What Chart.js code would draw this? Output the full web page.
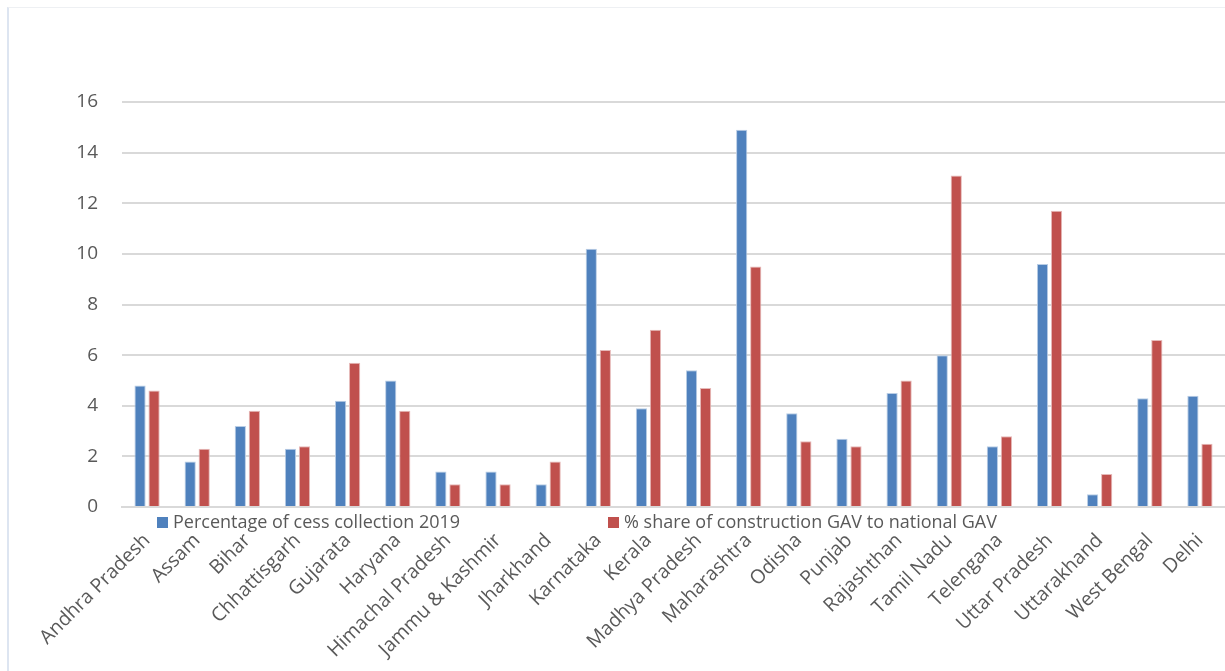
<!DOCTYPE html>
<html>
<head>
<meta charset="utf-8">
<script src="https://cdn.jsdelivr.net/npm/chart.js@4"></script>
<style>
  body { margin: 0; background: #fff; }
  #wrap { position: relative; width: 1225px; height: 671px; overflow: hidden; }
  #frame { position: absolute; left: 7px; top: 7px; right: -2px; bottom: -2px;
           border-left: 2px solid #dde5f1; border-top: 1px solid #eef0f3; }
  canvas { position: absolute; left: 0; top: 0; }
  #legend { position: absolute; top: 509px; left: 0; font-family: "Open Sans", sans-serif;
            font-size: 18px; color: #595959; white-space: nowrap; }
  #legend span.item { position: absolute; }
  #legend i { display: inline-block; width: 11px; height: 11px; margin-right: 5px; }
</style>
</head>
<body>
<div id="wrap">
  <div id="frame"></div>
  <canvas id="chart" width="1225" height="671"></canvas>
  <div id="legend"></div>
</div>
<script>
// States
const states = ["Andhra Pradesh", "Assam", "Bihar", "Chhattisgarh", "Gujarata", "Haryana",
  "Himachal Pradesh", "Jammu & Kashmir", "Jharkhand", "Karnataka", "Kerala", "Madhya Pradesh",
  "Maharashtra", "Odisha", "Punjab", "Rajashthan", "Tamil Nadu", "Telengana", "Uttar Pradesh",
  "Uttarakhand", "West Bengal", "Delhi"];

// Series
const cessLabel = "Percentage of cess collection 2019";
const cessValues = [4.8, 1.8, 3.2, 2.3, 4.2, 5.0, 1.4, 1.4, 0.9, 10.2, 3.9, 5.4, 14.9, 3.7, 2.7, 4.5, 6.0, 2.4, 9.6, 0.5, 4.3, 4.4];

const gavLabel = "% share of construction GAV to national GAV";
const gavValues = [4.6, 2.3, 3.8, 2.4, 5.7, 3.8, 0.9, 0.9, 1.8, 6.2, 7.0, 4.7, 9.5, 2.6, 2.4, 5.0, 13.1, 2.8, 11.7, 1.3, 6.6, 2.5];

// Y ticks
const yTicks = [0, 2, 4, 6, 8, 10, 12, 14, 16];

const blue = "#4f81bd";
const red = "#c0504d";

const ctx = document.getElementById("chart").getContext("2d");
const chart = new Chart(ctx, {
  type: "bar",
  data: {
    labels: states,
    datasets: [
      { label: cessLabel, data: cessValues, backgroundColor: blue, borderColor: "#b9cde5", borderWidth: 1 },
      { label: gavLabel, data: gavValues, backgroundColor: red, borderColor: "#e6b9b8", borderWidth: 1 }
    ]
  },
  options: {
    responsive: false,
    animation: false,
    layout: { padding: { top: 102, right: 0, left: 0, bottom: 0 } },
    categoryPercentage: 0.56,
    barPercentage: 0.8,
    plugins: { legend: { display: false }, tooltip: { enabled: false } },
    scales: {
      x: {
        grid: { display: false },
        border: { color: "#d9d9d9", width: 2 },
        ticks: { color: "#595959", font: { family: "Open Sans", size: 19.5 }, minRotation: 45, maxRotation: 45, autoSkip: false, padding: 14 },
        afterFit(scale) { scale.height = 164; scale.paddingLeft = 0; scale.paddingRight = 0; }
      },
      y: {
        min: 0, max: 16,
        afterBuildTicks(scale) { scale.ticks = yTicks.map(v => ({ value: v })); },
        grid: { color: "#d9d9d9", lineWidth: 2, drawTicks: false },
        border: { display: false },
        ticks: { color: "#595959", font: { family: "Open Sans", size: 19 }, padding: 24 },
        afterFit(scale) { scale.width = 122; scale.paddingTop = 0; scale.paddingBottom = 0; }
      }
    }
  }
});

// Legend (overlaps the axis labels as in the original)
const legend = document.getElementById("legend");
[[cessLabel, blue, 157], [gavLabel, red, 608]].forEach(([text, color, x]) => {
  const item = document.createElement("span");
  item.className = "item";
  item.style.left = x + "px";
  item.innerHTML = `<i style="background:${color}"></i>${text}`;
  legend.appendChild(item);
});
</script>
</body>
</html>
